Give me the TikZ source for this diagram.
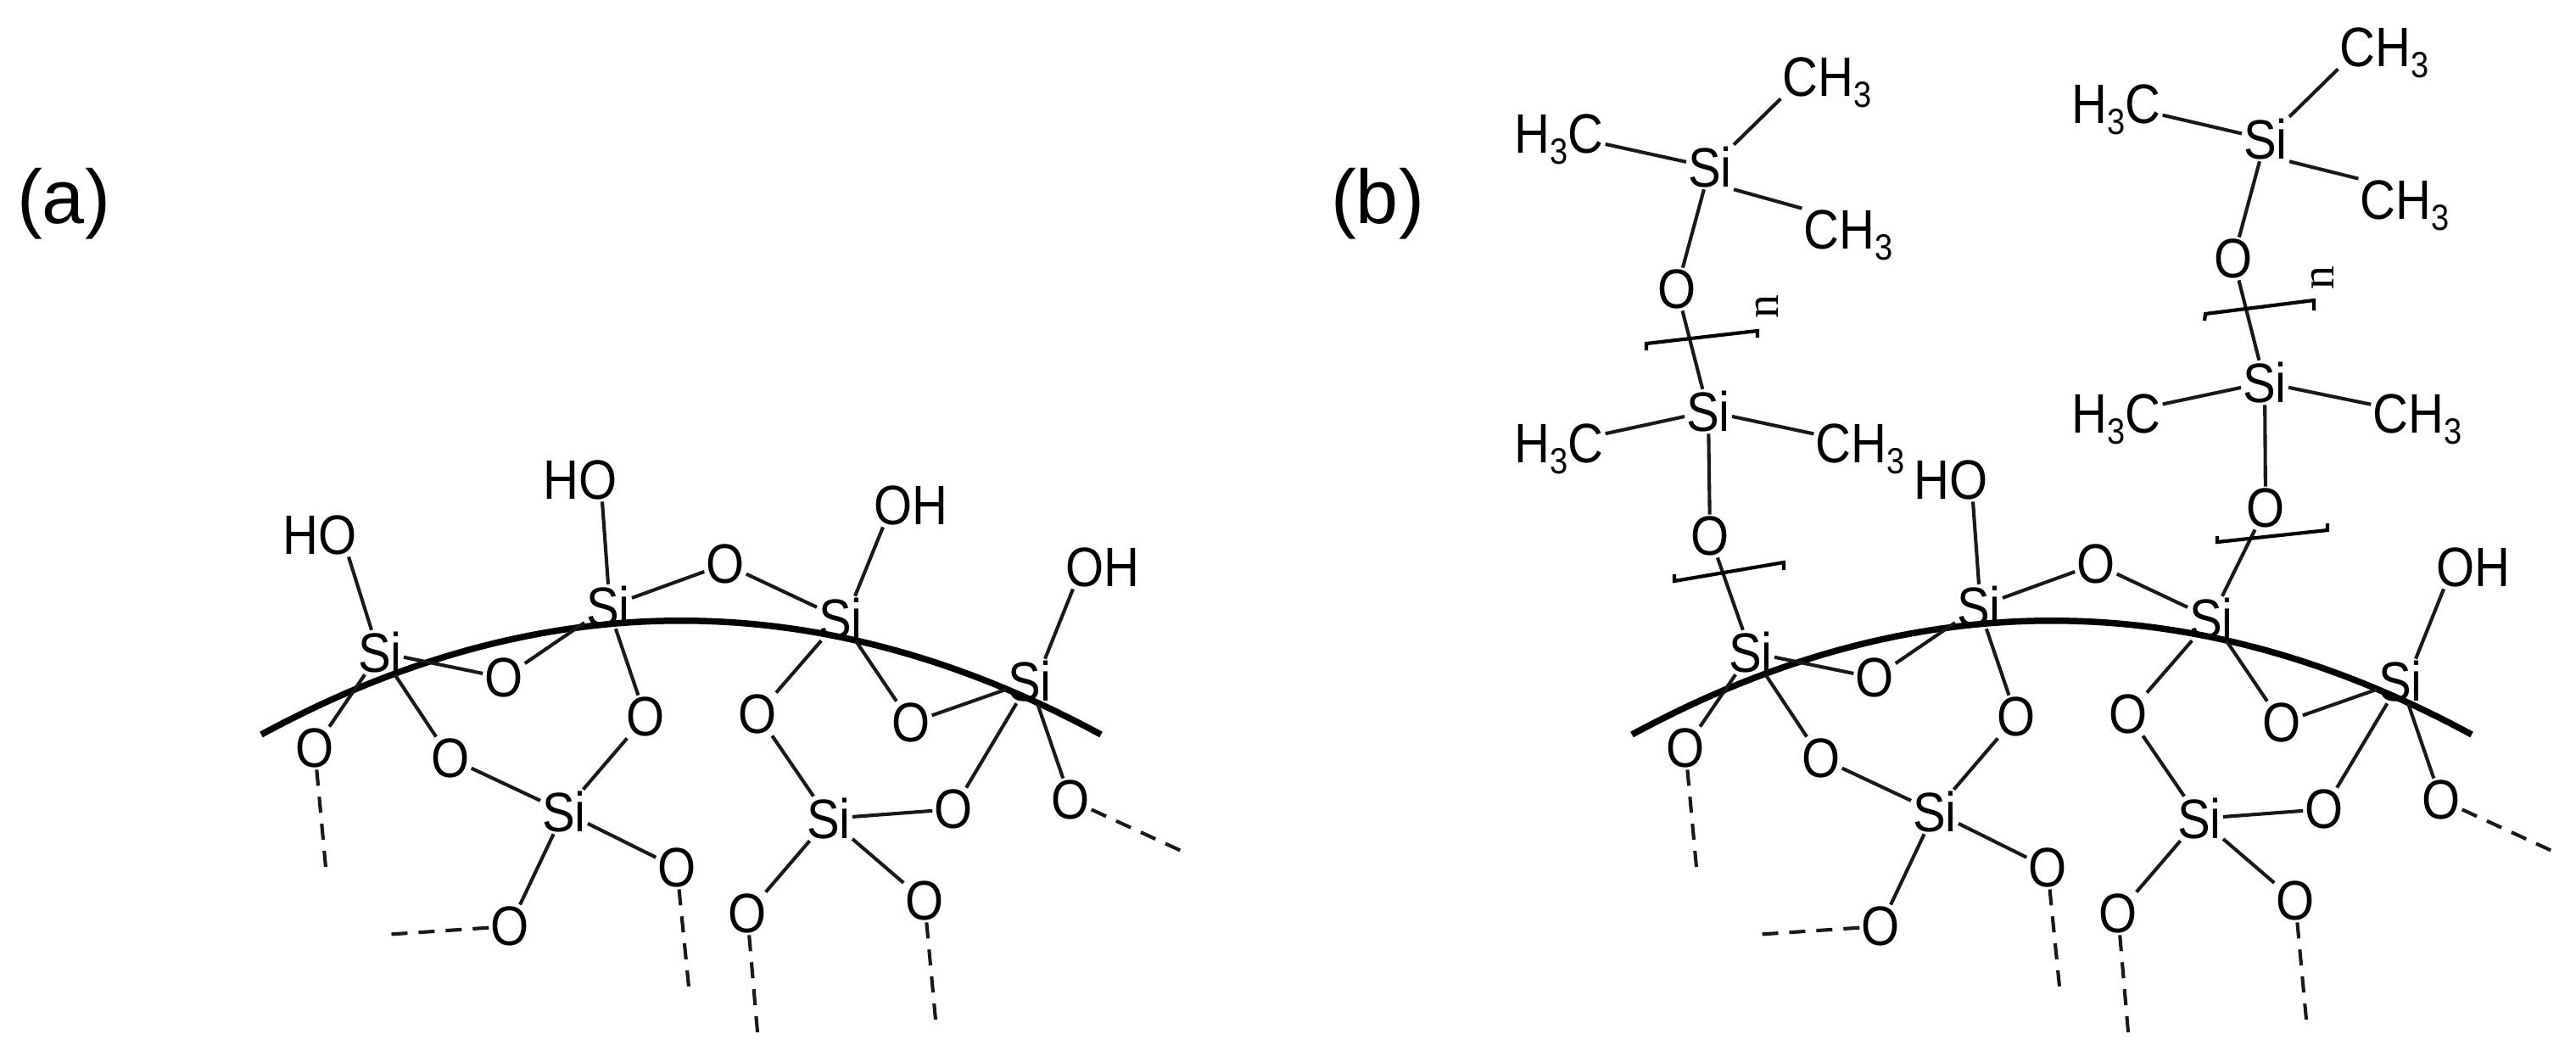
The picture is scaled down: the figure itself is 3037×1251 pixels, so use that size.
\documentclass[tikz,border=0pt]{standalone}
\usepackage{graphicx}
\usepackage{fontspec}
\setmainfont{Liberation Sans}
\newfontfamily\nfont{Liberation Serif}
\newcommand\tall[1]{\scalebox{1}[1.13]{#1}}
\newcommand\subthree{\smash{\raisebox{-.2em}{\fontsize{38}{38}\selectfont 3}}}
\newcommand\HthreeC{\tall{H\subthree C}}
\newcommand\CHthree{\tall{CH\subthree}}
\newcommand\Si{\tall{Si}}
\newcommand\Ox{\tall{O}}
\tikzset{
  atom/.style={rectangle,inner sep=2pt,font=\fontsize{58}{62}\selectfont},
  bond/.style={line width=4.1pt,draw=black!90},
  surface/.style={line width=7.5pt,draw=black},
  dashbond/.style={line width=4.1pt,draw=black!90,dash pattern=on 19pt off 13pt},
  bracket/.style={line width=4.2pt,draw=black},
  panel label/.style={inner sep=0pt,font=\fontsize{90}{96}\selectfont},
  repeat n/.style={inner sep=0pt,rotate=90,font=\nfont\fontsize{56}{58}\selectfont},
}
% Common silica particle of both panels; #1 is a name prefix
\newcommand\silicacore[1]{
  \node[atom] (#1sia) at (448,769) {\Si};
  \node[atom] (#1sib) at (717,715) {\Si};
  \node[atom] (#1sic) at (991,729) {\Si};
  \node[atom] (#1sid) at (1214,803) {\Si};
  \node[atom] (#1sie) at (665,957) {\Si};
  \node[atom] (#1sif) at (977,965) {\Si};
  \node[atom] (#1oab) at (594,799) {\Ox};
  \node[atom] (#1obc) at (855,665) {\Ox};
  \node[atom] (#1obe) at (761,845) {\Ox};
  \node[atom] (#1oa) at (371,882) {\Ox};
  \node[atom] (#1oae) at (531,894) {\Ox};
  \node[atom] (#1ocf) at (893,842) {\Ox};
  \node[atom] (#1ocd) at (1074,852) {\Ox};
  \node[atom] (#1odf) at (1124,954) {\Ox};
  \node[atom] (#1od) at (1262,943) {\Ox};
  \node[atom] (#1oe) at (798,1023) {\Ox};
  \node[atom] (#1oeb) at (601,1092) {\Ox};
  \node[atom] (#1of) at (881,1077) {\Ox};
  \node[atom] (#1ofb) at (1090,1062) {\Ox};
  \node[atom] (#1hob) at (684,566) {\tall{HO}};
  \node[atom] (#1ohd) at (1300,669) {\tall{OH}};
  \coordinate (#1s0) at (308,866);
  \coordinate (#1s1) at (638,687);
  \coordinate (#1s2) at (968,687);
  \coordinate (#1s3) at (1298,866);
  \draw[surface] (#1s0) .. controls (#1s1) and (#1s2) .. (#1s3);
  \draw[bond] (#1sia) -- (#1oab);
  \draw[bond] (#1oab) -- (#1sib);
  \draw[bond] (#1sia) -- (#1oae);
  \draw[bond] (#1sia) -- (#1oa);
  \draw[bond] (#1sib) -- (#1obc);
  \draw[bond] (#1obc) -- (#1sic);
  \draw[bond] (#1sib) -- (#1obe);
  \draw[bond] (#1sic) -- (#1ocf);
  \draw[bond] (#1sic) -- (#1ocd);
  \draw[bond] (#1ocd) -- (#1sid);
  \draw[bond] (#1sid) -- (#1odf);
  \draw[bond] (#1sid) -- (#1od);
  \draw[bond] (#1obe) -- (#1sie);
  \draw[bond] (#1oae) -- (#1sie);
  \draw[bond] (#1sie) -- (#1oe);
  \draw[bond] (#1sie) -- (#1oeb);
  \draw[bond] (#1ocf) -- (#1sif);
  \draw[bond] (#1sif) -- (#1odf);
  \draw[bond] (#1sif) -- (#1of);
  \draw[bond] (#1sif) -- (#1ofb);
  \draw[bond] ([xshift=26pt]#1hob.south) -- (#1sib.north);
  \draw[bond] ([xshift=-35pt]#1ohd.south) -- ([xshift=18pt]#1sid.north);
  \coordinate (#1da) at (385,1033);
  \coordinate (#1de) at (813,1173);
  \coordinate (#1deb) at (452,1102);
  \coordinate (#1df) at (894,1228);
  \coordinate (#1dfb) at (1104,1213);
  \coordinate (#1dd) at (1399,1006);
  \draw[dashbond] (#1oa) -- (#1da);
  \draw[dashbond] (#1oe) -- (#1de);
  \draw[dashbond] (#1oeb) -- (#1deb);
  \draw[dashbond] (#1of) -- (#1df);
  \draw[dashbond] (#1ofb) -- (#1dfb);
  \draw[dashbond] (#1od) -- (#1dd);
}
\begin{document}
\begin{tikzpicture}[x=1pt,y=-1pt]
  \useasboundingbox (0,0) rectangle (3037,1251);
  \node[panel label] (labela) at (75,240) {(a)};
  \node[panel label] (labelb) at (1624,240) {(b)};

  % panel (a)
  \begin{scope}
    \silicacore{a}
    \node[atom] (ahoa) at (377,631) {\tall{HO}};
    \node[atom] (aohc) at (1074,596) {\tall{OH}};
    \draw[bond] ([xshift=34pt]ahoa.south) -- ([xshift=-10pt]asia.north);
    \draw[bond] ([xshift=-33pt]aohc.south) -- ([xshift=17pt]asic.north);
  \end{scope}

  % panel (b)
  \begin{scope}[xshift=1616pt]
    \silicacore{b}
  \end{scope}

  % left siloxane chain
  \node[atom] (lcha) at (2154,91) {\CHthree};
  \node[atom] (lhca) at (1838,158) {\HthreeC};
  \node[atom] (lsia) at (2016,197) {\Si};
  \node[atom] (lchb) at (2179,271) {\CHthree};
  \node[atom] (loa) at (1977,341) {\Ox};
  \node[atom] (lsib) at (2014,485) {\Si};
  \node[atom] (lhcb) at (1838,523) {\HthreeC};
  \node[atom] (lchc) at (2193,523) {\CHthree};
  \node[atom] (lob) at (2016,632) {\Ox};
  \node[repeat n] (ln) at (2083,361) {n};
  \draw[bond] (lcha.south west) -- (lsia.north east);
  \draw[bond] (lhca) -- (lsia);
  \draw[bond] (lsia.south east) -- (lchb.north west);
  \draw[bond] (lsia) -- (loa);
  \draw[bond] (loa) -- (lsib);
  \draw[bond] (lhcb) -- (lsib);
  \draw[bond] (lsib) -- (lchc);
  \draw[bond] (lsib) -- (lob);
  \draw[bond] (lob) -- (bsia);
  \draw[bracket] (1941,413) -- (1941,405) -- (2072,390) -- (2072,398);
  \draw[bracket] (1974,677) -- (1974,685) -- (2103,663) -- (2103,672);

  % right siloxane chain
  \node[atom] (rcha) at (2811,56) {\CHthree};
  \node[atom] (rhca) at (2495,123) {\HthreeC};
  \node[atom] (rsia) at (2671,164) {\Si};
  \node[atom] (rchb) at (2835,236) {\CHthree};
  \node[atom] (roa) at (2633,305) {\Ox};
  \node[atom] (rsib) at (2670,451) {\Si};
  \node[atom] (rhcb) at (2495,488) {\HthreeC};
  \node[atom] (rchc) at (2850,488) {\CHthree};
  \node[atom] (rob) at (2671,599) {\Ox};
  \node[repeat n] (rn) at (2738,327) {n};
  \draw[bond] (rcha.south west) -- (rsia.north east);
  \draw[bond] (rhca) -- (rsia);
  \draw[bond] (rsia.south east) -- (rchb.north west);
  \draw[bond] (rsia) -- (roa);
  \draw[bond] (roa) -- (rsib);
  \draw[bond] (rhcb) -- (rsib);
  \draw[bond] (rsib) -- (rchc);
  \draw[bond] (rsib) -- (rob);
  \draw[bond] (rob) -- (bsic);
  \draw[bracket] (2599,378) -- (2600,370) -- (2728,354) -- (2728,366);
  \draw[bracket] (2614,632) -- (2614,639) -- (2744,625) -- (2744,617);
\end{tikzpicture}
\end{document}
